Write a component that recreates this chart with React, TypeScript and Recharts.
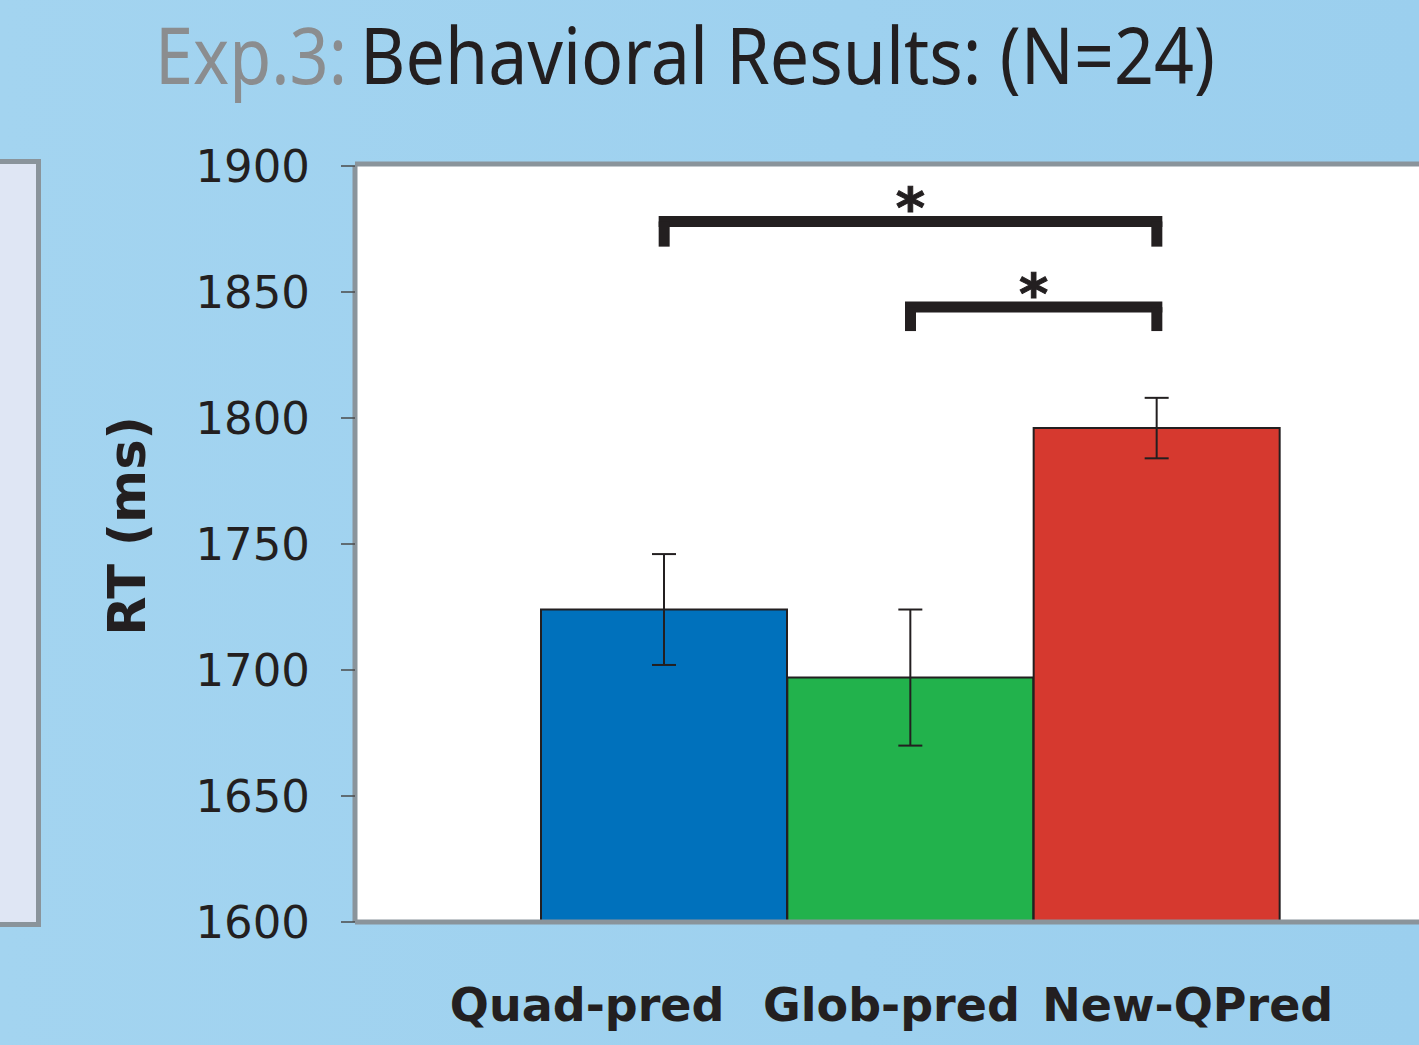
import { BarChart, Bar, Cell, XAxis, YAxis, CartesianGrid, ErrorBar, ReferenceLine } from 'recharts';

const categories = ['Quad-pred', 'Glob-pred', 'New-QPred'];
const meanRT = [1724, 1697, 1796];
const seRT = [22, 27, 12];
const yTicks = [1600, 1650, 1700, 1750, 1800, 1850, 1900];

// significance brackets: from/to category, bracket level and foot (ms)
const comparisons = [
  { from: 'Quad-pred', to: 'New-QPred', level: 1878, foot: 1868, mark: '*' },
  { from: 'Glob-pred', to: 'New-QPred', level: 1844, foot: 1834.5, mark: '*' },
];

const barColors = ['#0071BC', '#22B24C', '#D6392F'];
const ink = '#231F20';
const frame = '#8A949B';

const data = categories.map((name, i) => ({ name, rt: meanRT[i], se: seRT[i] }));

// labels in the original are spread wider than the bars
const tickShift = [-77, -19, 31];

const CategoryTick = ({ x, y, payload, index }: any) => (
  <text
    x={x + tickShift[index]}
    y={y + 99}
    textAnchor="middle"
    fontFamily="DejaVu Sans"
    fontWeight={700}
    fontSize={46}
    fill={ink}
  >
    {payload.value}
  </text>
);

const YLabel = ({ viewBox }: any) => {
  const cx = viewBox.x + 72;
  const cy = viewBox.y + viewBox.height / 2 - 18;
  return (
    <text
      x={cx}
      y={cy}
      transform={`rotate(-90, ${cx}, ${cy})`}
      textAnchor="middle"
      dominantBaseline="central"
      fontFamily="DejaVu Sans"
      fontWeight={700}
      fontSize={51}
      fill={ink}
    >
      RT (ms)
    </text>
  );
};

const App = () => {
  return (
    <div
      style={{
        position: 'absolute',
        left: 0,
        top: 0,
        width: 1419,
        height: 1045,
        overflow: 'hidden',
        background: 'linear-gradient(90deg, #A3D4F0 0%, #9ED1EF 60%, #9BCFEE 100%)',
      }}
    >
      <div
        style={{
          position: 'absolute',
          left: 0,
          top: 159,
          width: 41,
          height: 768,
          boxSizing: 'border-box',
          background: '#DFE6F4',
          borderTop: `5px solid ${frame}`,
          borderRight: `5px solid ${frame}`,
          borderBottom: `5px solid ${frame}`,
        }}
      />
      <svg style={{ position: 'absolute', left: 0, top: 0 }} width={1419} height={130}>
        <text
          x={155}
          y={84}
          fontFamily="Noto Sans"
          fontSize={78}
          fill="#8B8D8F"
          textLength={192}
          lengthAdjust="spacingAndGlyphs"
        >
          Exp.3:
        </text>
        <text
          x={360}
          y={84}
          fontFamily="Noto Sans"
          fontSize={78}
          fill={ink}
          textLength={855}
          lengthAdjust="spacingAndGlyphs"
        >
          Behavioral Results: (N=24)
        </text>
      </svg>
      <div style={{ position: 'absolute', left: 0, top: 0 }}>
        <BarChart
          width={1419}
          height={1045}
          data={data}
          margin={{ top: 166, right: 0, bottom: 0, left: 55 }}
          barCategoryGap={0}
        >
          <CartesianGrid fill="#FFFFFF" stroke="none" horizontal={false} vertical={false} />
          <XAxis
            dataKey="name"
            height={123}
            padding={{ left: 186, right: 139 }}
            tickLine={false}
            tickSize={0}
            tickMargin={0}
            axisLine={{ stroke: frame, strokeWidth: 5 }}
            tick={<CategoryTick />}
            interval={0}
          />
          <YAxis
            width={300}
            domain={[1600, 1900]}
            ticks={yTicks}
            interval={0}
            allowDataOverflow
            axisLine={{ stroke: frame, strokeWidth: 5 }}
            tickLine={{ stroke: '#4A4A4A', strokeWidth: 1.5 }}
            tickSize={14}
            tickMargin={31}
            tick={{ fontFamily: 'DejaVu Sans', fontSize: 45, fill: ink }}
            label={{ content: <YLabel /> }}
          />
          <ReferenceLine y={1900} stroke={frame} strokeWidth={5} transform="translate(0,-2)" />
          <Bar dataKey="rt" stroke={ink} strokeWidth={2} isAnimationActive={false}>
            {data.map((d, i) => (
              <Cell key={d.name} fill={barColors[i]} />
            ))}
            <ErrorBar dataKey="se" direction="y" width={12} stroke={ink} strokeWidth={2} isAnimationActive={false} />
          </Bar>
          {comparisons.map((c, i) => (
            <ReferenceLine
              key={`h${i}`}
              segment={[
                { x: c.from, y: c.level },
                { x: c.to, y: c.level },
              ]}
              stroke={ink}
              strokeWidth={11}
              strokeLinecap="square"
              label={{
                value: c.mark,
                position: 'top',
                offset: -6,
                fontFamily: 'DejaVu Sans',
                fontWeight: 700,
                fontSize: 56,
                stroke: ink,
                strokeWidth: 1,
                fill: ink,
              }}
            />
          ))}
          {comparisons.flatMap((c, i) =>
            [c.from, c.to].map((cat, j) => (
              <ReferenceLine
                key={`v${i}-${j}`}
                segment={[
                  { x: cat, y: c.level },
                  { x: cat, y: c.foot },
                ]}
                stroke={ink}
                strokeWidth={11}
              />
            ))
          )}
        </BarChart>
      </div>
    </div>
  );
};

export default App;
